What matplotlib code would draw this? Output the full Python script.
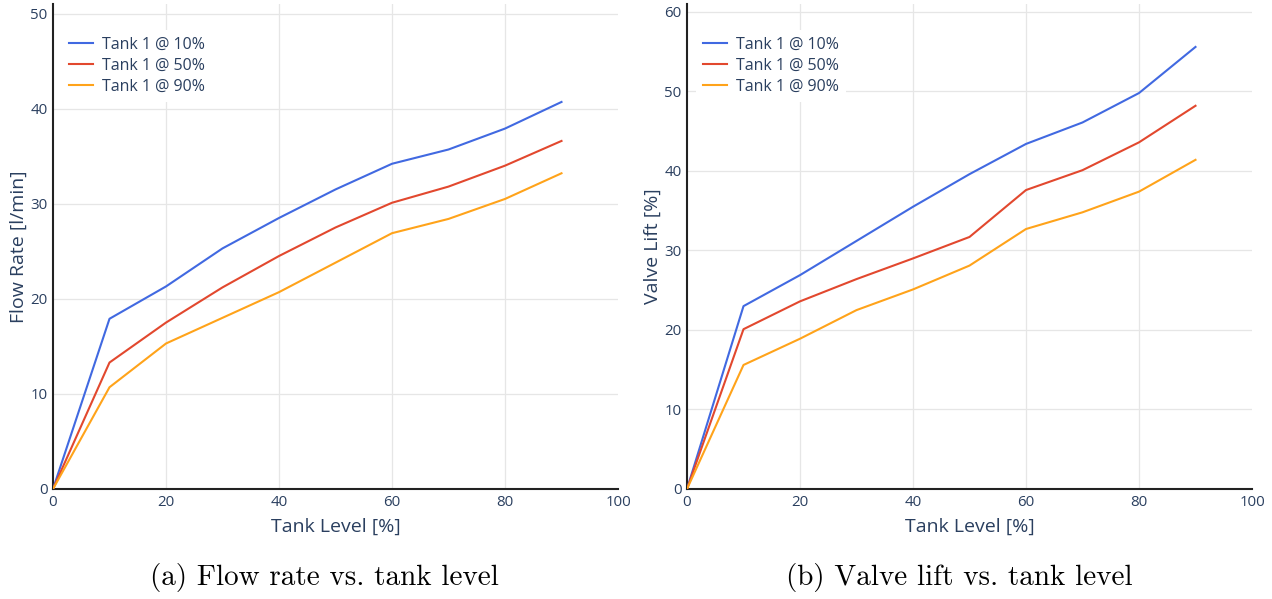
import matplotlib
matplotlib.use('Agg')
import matplotlib.pyplot as plt

# Tank level sweep [%]
tank_level = [0, 10, 20, 30, 40, 50, 60, 70, 80, 90]

# Flow rate [l/min] per tank 1 level
flow_10 = [0, 17.9, 21.3, 25.3, 28.5, 31.5, 34.2, 35.7, 37.9, 40.7]
flow_50 = [0, 13.3, 17.5, 21.2, 24.5, 27.5, 30.1, 31.8, 34.0, 36.6]
flow_90 = [0, 10.7, 15.3, 18.0, 20.7, 23.8, 26.9, 28.4, 30.5, 33.2]

# Valve lift [%] per tank 1 level
lift_10 = [0, 23.0, 26.9, 31.2, 35.5, 39.6, 43.4, 46.1, 49.8, 55.6]
lift_50 = [0, 20.1, 23.6, 26.4, 29.0, 31.7, 37.6, 40.1, 43.6, 48.2]
lift_90 = [0, 15.6, 18.9, 22.5, 25.1, 28.1, 32.7, 34.8, 37.4, 41.4]

labels = ['Tank 1 @ 10%', 'Tank 1 @ 50%', 'Tank 1 @ 90%']
colors = ['#4169e1', '#e2482e', '#ffa31a']
x_ticks = [0, 20, 40, 60, 80, 100]

txt_color = '#2a3f5f'
grid_color = '#e6e6e6'

plt.rcParams['font.family'] = ['Open Sans', 'DejaVu Sans']

fig = plt.figure(figsize=(12.72, 5.99), dpi=100)
W, H = 1272.0, 599.0


# Draw one plotly-style panel
def panel(left_px, series, ylim, yticks, ylabel, caption, cap_x):
    ax = fig.add_axes([left_px / W, 1 - 489 / H, 565 / W, 485 / H])
    for ys, lab, c in zip(series, labels, colors):
        ax.plot(tank_level, ys, color=c, lw=1.5, label=lab, zorder=3)
    ax.set_xlim(0, 100)
    ax.set_ylim(*ylim)
    ax.set_xticks(x_ticks)
    ax.set_yticks(yticks)
    for x in x_ticks[1:-1]:
        ax.axvline(x, color=grid_color, lw=0.9, zorder=0)
    for y in yticks[1:]:
        ax.axhline(y, color=grid_color, lw=0.9, zorder=0)
    for s in ['top', 'right']:
        ax.spines[s].set_visible(False)
    for s in ['left', 'bottom']:
        ax.spines[s].set_linewidth(1.5)
        ax.spines[s].set_color('#222222')
    ax.tick_params(length=0, labelsize=10.8, labelcolor=txt_color, pad=4)
    ax.set_xlabel('Tank Level [%]', fontsize=14, color=txt_color, labelpad=6)
    ax.set_ylabel(ylabel, fontsize=14, color=txt_color, labelpad=2)
    leg = ax.legend(loc='upper left', bbox_to_anchor=(0.016, 0.947),
                    frameon=True, facecolor='white', edgecolor='none', framealpha=1,
                    fontsize=11.5, handlelength=1.5, handletextpad=0.55,
                    labelspacing=0.3, borderpad=0.45, borderaxespad=0)
    for t in leg.get_texts():
        t.set_color(txt_color)
    leg.set_zorder(4)
    fig.text(cap_x / W, 1 - 578 / H, caption, ha='center', va='center',
             fontsize=21, family='cmr10')
    return ax


panel(53, [flow_10, flow_50, flow_90], (0, 51), [0, 10, 20, 30, 40, 50],
      'Flow Rate [l/min]', '(a) Flow rate vs. tank level', 324)
panel(687, [lift_10, lift_50, lift_90], (0, 61), [0, 10, 20, 30, 40, 50, 60],
      'Valve Lift [%]', '(b) Valve lift vs. tank level', 959)

fig.savefig('out.png', dpi=100, facecolor='white')
